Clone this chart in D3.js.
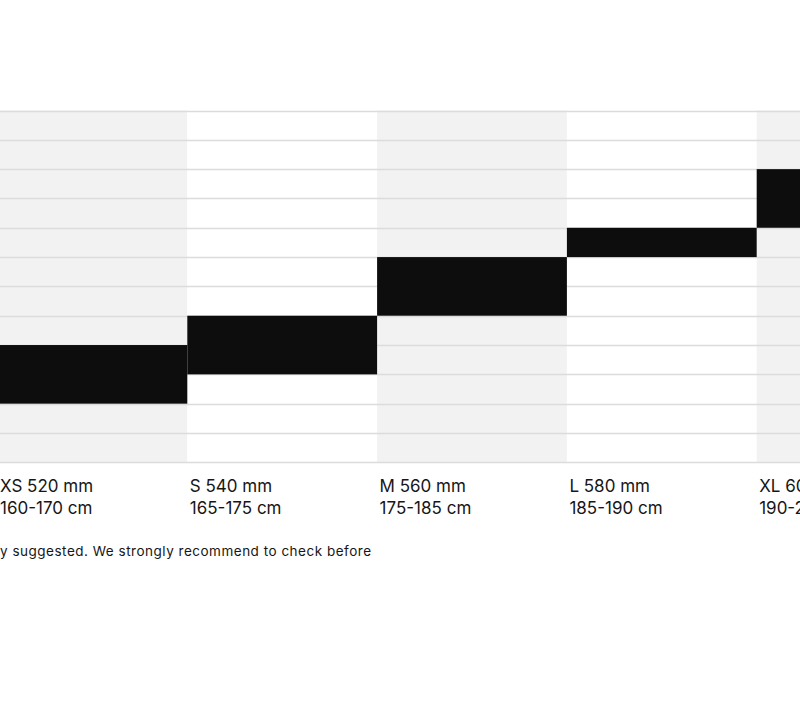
<!DOCTYPE html>
<html>
<head>
<meta charset="utf-8">
<script src="https://cdn.jsdelivr.net/npm/d3@7"></script>
<style>
  html, body { margin: 0; padding: 0; background: #fff; }
  svg { display: block; }
</style>
</head>
<body>
<svg id="chart" width="800" height="709"></svg>
<script>
// ---- data ----
const sizes = ["XS", "S", "M", "L", "XL"];
const frameMm = [520, 540, 560, 580, 600];
const minHeight = [160, 165, 175, 185, 190];
const maxHeight = [170, 175, 185, 190, 200];
const gridTicks = [150, 155, 160, 165, 170, 175, 180, 185, 190, 195, 200, 205, 210];
const footnote = "y suggested. We strongly recommend to check before";

const svg = d3.select("#chart");
const W = 800, H = 709;

const x = d3.scaleBand().domain(sizes).range([-2.5, 946.5]).padding(0);
const y = d3.scaleLinear().domain([150, 210]).range([462.3, 110.5]);

const rows = sizes.map((s, i) => ({ size: s, mm: frameMm[i], lo: minHeight[i], hi: maxHeight[i], i }));

// column backgrounds
svg.append("g").selectAll("rect").data(rows).join("rect")
  .attr("x", d => x(d.size))
  .attr("y", y(210))
  .attr("width", x.bandwidth())
  .attr("height", y(150) - y(210))
  .attr("fill", d => d.i % 2 === 0 ? "#f2f2f2" : "#ffffff");

// gridlines
svg.append("g").selectAll("line").data(gridTicks).join("line")
  .attr("x1", 0).attr("x2", W)
  .attr("y1", d => Math.round(y(d)) + 0.5)
  .attr("y2", d => Math.round(y(d)) + 0.5)
  .attr("stroke", "#dcdcdc")
  .attr("stroke-width", 1.3);

// bars
svg.append("g").selectAll("rect").data(rows).join("rect")
  .attr("x", d => x(d.size))
  .attr("y", d => y(d.hi))
  .attr("width", x.bandwidth())
  .attr("height", d => y(d.lo) - y(d.hi))
  .attr("fill", "#0d0d0d");

// labels
const lab = svg.append("g")
  .attr("font-family", "Inter, 'Open Sans', sans-serif")
  .attr("font-size", 17)
  .attr("fill", "#161616");
lab.selectAll("text.l1").data(rows).join("text")
  .attr("class", "l1")
  .attr("x", d => x(d.size) + 2.5)
  .attr("y", 491.7)
  .text(d => `${d.size} ${d.mm} mm`);
lab.selectAll("text.l2").data(rows).join("text")
  .attr("class", "l2")
  .attr("x", d => x(d.size) + 2.5)
  .attr("y", 514.3)
  .text(d => `${d.lo}-${d.hi} cm`);

svg.append("text")
  .attr("x", 0)
  .attr("y", 555.5)
  .attr("font-family", "Inter, 'Open Sans', sans-serif")
  .attr("font-size", 13.5)
  .attr("fill", "#161616")
  .attr("textLength", 371)
  .attr("lengthAdjust", "spacing")
  .text(footnote);
</script>
</body>
</html>
